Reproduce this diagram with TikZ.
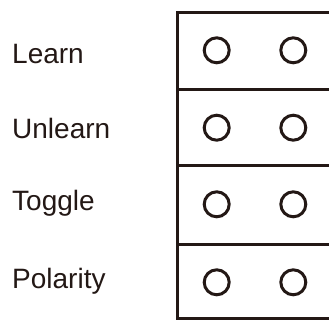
\documentclass[tikz,border=0pt]{standalone}
\usepackage{fontspec}
\setmainfont{Liberation Sans}
\usetikzlibrary{positioning}
\definecolor{ink}{HTML}{231815}
\tikzset{
    label/.style = {anchor=base west, inner sep=0pt, text=ink,
        font=\fontsize{28bp}{34bp}\selectfont},
    hole/.style = {draw=ink, circle, line width=3bp,
        minimum size=25bp, inner sep=0pt},
    frame/.style = {draw=ink, line width=3bp}
}

\begin{document}
\begin{tikzpicture}[x=1bp, y=-1bp, node distance=76.6bp]
        \useasboundingbox (0,0) rectangle (329,320);
        % frame of the four rows
        \draw [frame] (177.3,12.3) -- (177.3,322);
        \draw [frame] (176,12.3) -- (332,12.3);
        \draw [frame] (177.3,89.3) -- (332,89.3);
        \draw [frame] (177.3,165.7) -- (332,165.7);
        \draw [frame] (177.3,244) -- (332,244);
        \draw [frame] (177.3,318.6) -- (332,318.6);
        % labels
        \node [label] (learn) at (12,63.3) {Learn};
        \node [label] (unlearn) at (12,138.3) {Unlearn};
        \node [label] (toggle) at (12,210.7) {Toggle};
        \node [label] (polarity) at (12,288.3) {Polarity};
        % holes
        \node [hole] (la) at (216.7,50.3) {};
        \node [hole, right of=la] (lb) {};
        \node [hole] (ua) at (216.7,127.7) {};
        \node [hole, right of=ua] (ub) {};
        \node [hole] (ta) at (216.7,204.3) {};
        \node [hole, right of=ta] (tb) {};
        \node [hole] (pa) at (216.7,282.3) {};
        \node [hole, right of=pa] (pb) {};
    \end{tikzpicture}
\end{document}
